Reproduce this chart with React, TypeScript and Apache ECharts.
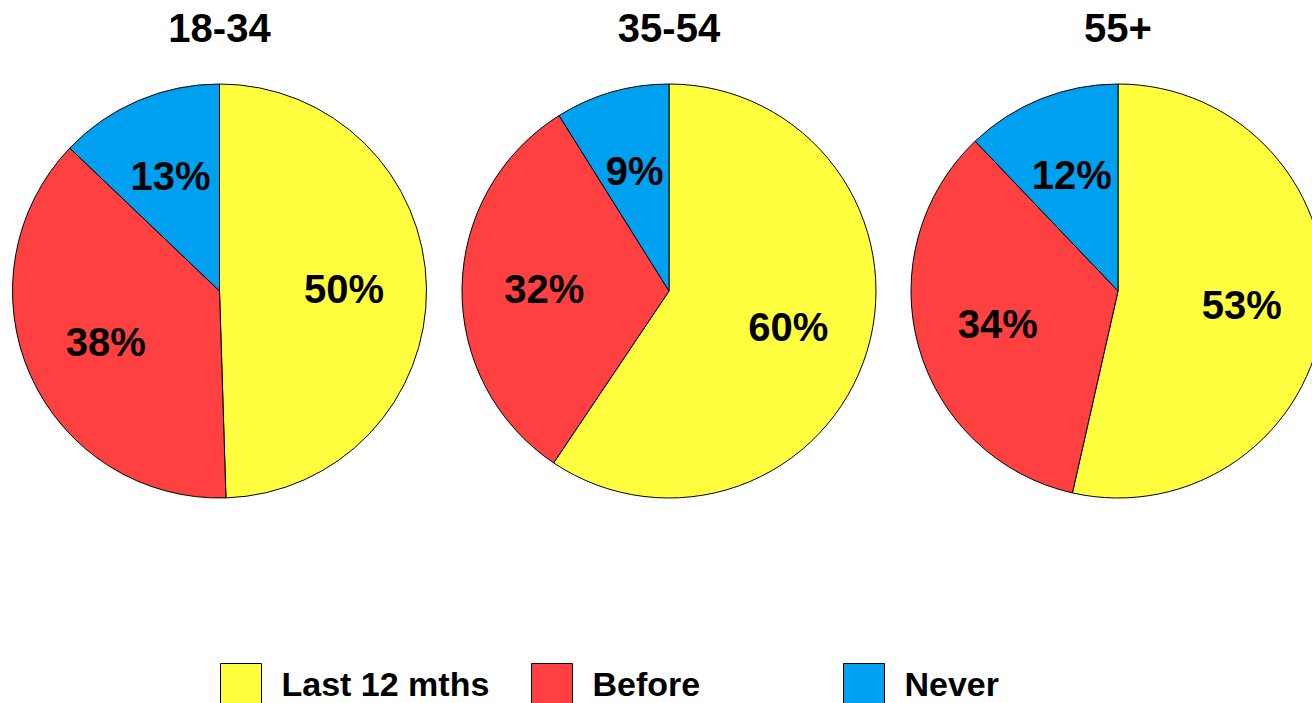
import React, { useEffect, useRef } from "react";
import * as echarts from "echarts";

// Age groups, one pie each
const groups = ["18-34", "35-54", "55+"];
// Slice categories (legend order)
const categories = ["Last 12 mths", "Before", "Never"];
// Percentages per age group
const last12 = [50, 60, 53];
const before = [38, 32, 34];
const never = [13, 9, 12];

const colors = ["#FFFF40", "#FF4040", "#00A0F0"];
const FONT = '"Liberation Sans", Arial, sans-serif';

// Layout
const centersX = [219.5, 669, 1118];
const centerY = 291;
const R = 207;
const legendLeft = [215, 526, 838];

export default function App() {
  const ref = useRef<HTMLDivElement>(null);

  useEffect(() => {
    if (!ref.current) return;
    const chart = echarts.init(ref.current, undefined, { renderer: "svg" });

    const seriesData = groups.map((_, i) =>
      categories.map((name, k) => ({
        name,
        value: [last12, before, never][k][i],
      }))
    );

    const pies = groups.map((g, i) => ({
      type: "pie",
      name: g,
      center: [centersX[i], centerY],
      radius: [0, R],
      startAngle: 90,
      clockwise: true,
      silent: true,
      label: { show: false },
      labelLine: { show: false },
      emphasis: { disabled: true },
      itemStyle: { borderColor: "#000", borderWidth: 1 },
      data: seriesData[i].map((d, k) => ({
        ...d,
        itemStyle: { color: colors[k] },
      })),
    }));

    // Transparent ring so the inside labels sit at about 59% of the radius
    const labelPies = groups.map((g, i) => ({
      type: "pie",
      name: g + " labels",
      center: [centersX[i], centerY],
      radius: [R * 0.175, R],
      startAngle: 90,
      clockwise: true,
      silent: true,
      emphasis: { disabled: true },
      itemStyle: { color: "rgba(0,0,0,0)", borderWidth: 0 },
      labelLine: { show: false },
      label: {
        show: true,
        position: "inside",
        formatter: "{c}%",
        color: "#000",
        fontSize: 40,
        fontWeight: "bold",
        fontFamily: FONT,
      },
      data: seriesData[i],
    }));

    chart.setOption({
      animation: false,
      backgroundColor: "#fff",
      graphic: groups.map((g, i) => ({
        type: "text",
        x: centersX[i],
        y: 28,
        style: {
          text: g,
          fill: "#000",
          font: `bold 40px ${FONT}`,
          align: "center",
          verticalAlign: "middle",
        },
      })),
      legend: categories.map((name, k) => ({
        data: [name],
        left: legendLeft[k],
        top: 658,
        orient: "horizontal",
        itemWidth: 41,
        itemHeight: 41,
        icon: "rect",
        selectedMode: false,
        itemStyle: { color: colors[k], borderColor: "#000", borderWidth: 1 },
        textStyle: {
          fontSize: 34,
          fontWeight: "bold",
          fontFamily: FONT,
          color: "#000",
          padding: [0, 0, 0, 15],
        },
      })),
      series: [...pies, ...labelPies],
    });

    return () => chart.dispose();
  }, []);

  return (
    <div
      ref={ref}
      style={{ position: "absolute", left: 0, top: 0, width: 1312, height: 703 }}
    />
  );
}
